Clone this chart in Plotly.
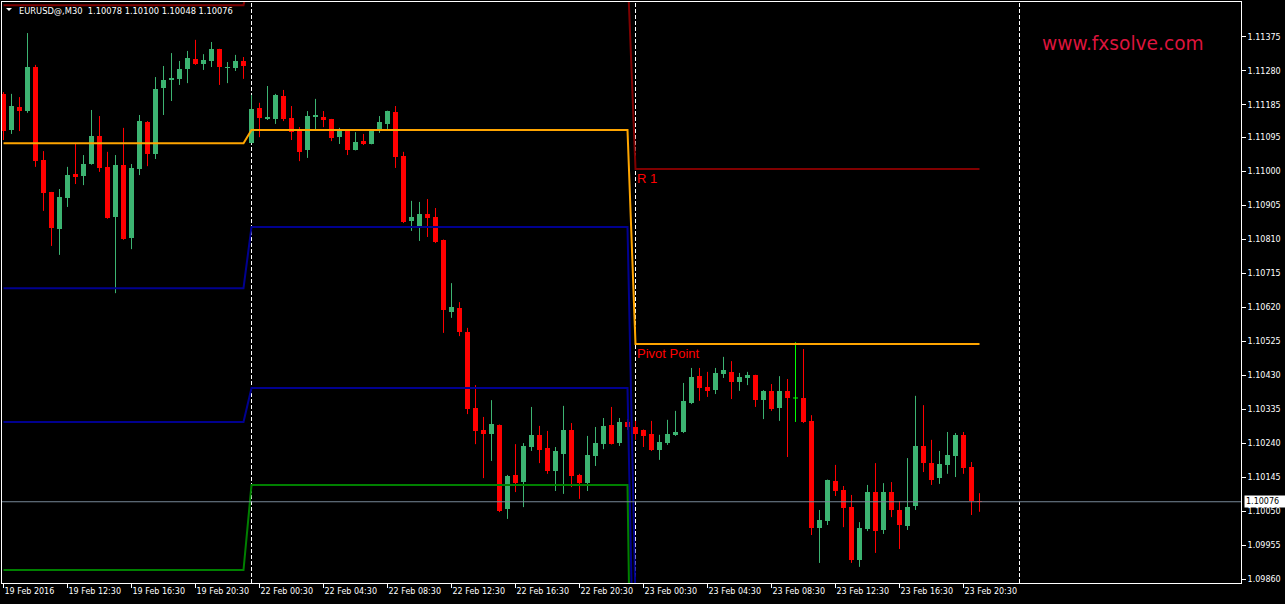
import numpy as np
import pandas as pd
import plotly.graph_objects as go

# ---------------------------------------------------------------- data
symbol = "EURUSD@,M30"
session_days = ["2016-02-19", "2016-02-22", "2016-02-23"]
first_bar = "2016-02-19 08:30"
last_bar = "2016-02-23 21:30"

open_ = [
    1.11216, 1.11115, 1.11179, 1.11168, 1.11291, 1.11031, 1.10942, 1.10838, 1.10925, 1.10992,
    1.10986, 1.11020, 1.11098, 1.11012, 1.10872, 1.11017, 1.10813, 1.11006, 1.11137, 1.11048,
    1.11232, 1.11255, 1.11258, 1.11286, 1.11313, 1.11300, 1.11308, 1.11341, 1.11290, 1.11288,
    1.11308, 1.11079, 1.11177, 1.11146, 1.11146, 1.11210, 1.11149, 1.11115, 1.11059, 1.11151,
    1.11151, 1.11146, 1.11095, 1.11115, 1.11059, 1.11084, 1.11076, 1.11115, 1.11132, 1.11165,
    1.11042, 1.10861, 1.10847, 1.10880, 1.10872, 1.10808, 1.10606, 1.10618, 1.10550, 1.10338,
    1.10277, 1.10265, 1.10291, 1.10056, 1.10151, 1.10131, 1.10229, 1.10263, 1.10226, 1.10162,
    1.10209, 1.10277, 1.10151, 1.10128, 1.10204, 1.10237, 1.10291, 1.10240, 1.10299, 1.10285,
    1.10277, 1.10265, 1.10221, 1.10240, 1.10263, 1.10271, 1.10352, 1.10427, 1.10397, 1.10388,
    1.10433, 1.10439, 1.10411, 1.10422, 1.10430, 1.10360, 1.10386, 1.10338, 1.10386, 1.10366,
    1.10366, 1.10302, 1.10003, 1.10022, 1.10134, 1.10109, 1.10061, 1.09913, 1.10000, 1.10103,
    1.09997, 1.10103, 1.10053, 1.10008, 1.10064, 1.10232, 1.10184, 1.10142, 1.10179, 1.10204,
    1.10263, 1.10173, 1.10078,
]
high = [
    1.11221, 1.11216, 1.11207, 1.11386, 1.11297, 1.11056, 1.10942, 1.10950, 1.11012, 1.11079,
    1.11045, 1.11171, 1.11154, 1.11054, 1.11045, 1.11121, 1.11020, 1.11157, 1.11140, 1.11263,
    1.11294, 1.11330, 1.11308, 1.11336, 1.11367, 1.11327, 1.11361, 1.11342, 1.11305, 1.11325,
    1.11319, 1.11213, 1.11191, 1.11238, 1.11216, 1.11227, 1.11182, 1.11123, 1.11168, 1.11202,
    1.11168, 1.11146, 1.11121, 1.11116, 1.11109, 1.11104, 1.11116, 1.11154, 1.11169, 1.11182,
    1.11054, 1.10917, 1.10914, 1.10922, 1.10897, 1.10809, 1.10687, 1.10634, 1.10562, 1.10402,
    1.10313, 1.10360, 1.10292, 1.10151, 1.10237, 1.10240, 1.10341, 1.10288, 1.10274, 1.10229,
    1.10344, 1.10296, 1.10154, 1.10260, 1.10285, 1.10310, 1.10341, 1.10310, 1.10307, 1.10302,
    1.10278, 1.10302, 1.10263, 1.10305, 1.10330, 1.10408, 1.10450, 1.10450, 1.10439, 1.10450,
    1.10481, 1.10469, 1.10436, 1.10439, 1.10431, 1.10388, 1.10405, 1.10427, 1.10419, 1.10522,
    1.10503, 1.10318, 1.10053, 1.10138, 1.10179, 1.10120, 1.10095, 1.10019, 1.10123, 1.10184,
    1.10128, 1.10131, 1.10078, 1.10198, 1.10372, 1.10346, 1.10249, 1.10218, 1.10271, 1.10268,
    1.10271, 1.10187, 1.10100,
]
low = [
    1.11087, 1.11104, 1.11112, 1.11163, 1.11012, 1.10889, 1.10791, 1.10766, 1.10900, 1.10964,
    1.10961, 1.11018, 1.10998, 1.10867, 1.10659, 1.10808, 1.10782, 1.10989, 1.11014, 1.11034,
    1.11157, 1.11196, 1.11241, 1.11246, 1.11297, 1.11283, 1.11291, 1.11241, 1.11246, 1.11280,
    1.11258, 1.11078, 1.11095, 1.11143, 1.11132, 1.11140, 1.11087, 1.11028, 1.11037, 1.11115,
    1.11123, 1.11084, 1.11076, 1.11045, 1.11058, 1.11073, 1.11075, 1.11107, 1.11118, 1.11009,
    1.10855, 1.10833, 1.10805, 1.10816, 1.10799, 1.10548, 1.10590, 1.10539, 1.10321, 1.10237,
    1.10142, 1.10190, 1.10047, 1.10028, 1.10103, 1.10061, 1.10218, 1.10184, 1.10154, 1.10106,
    1.10098, 1.10117, 1.10084, 1.10106, 1.10176, 1.10223, 1.10236, 1.10232, 1.10277, 1.10249,
    1.10229, 1.10218, 1.10193, 1.10235, 1.10260, 1.10268, 1.10349, 1.10358, 1.10369, 1.10377,
    1.10422, 1.10363, 1.10386, 1.10402, 1.10341, 1.10307, 1.10330, 1.10302, 1.10201, 1.10299,
    1.10296, 1.09983, 1.09905, 1.10011, 1.10092, 1.10005, 1.09905, 1.09894, 1.09994, 1.09933,
    1.09986, 1.10033, 1.09944, 1.09997, 1.10053, 1.10159, 1.10123, 1.10126, 1.10154, 1.10145,
    1.10154, 1.10039, 1.10048,
]
close = [
    1.11112, 1.11182, 1.11168, 1.11291, 1.11028, 1.10939, 1.10841, 1.10928, 1.10989, 1.10984,
    1.11020, 1.11098, 1.11009, 1.10869, 1.11017, 1.10810, 1.11009, 1.11140, 1.11048, 1.11230,
    1.11255, 1.11260, 1.11286, 1.11316, 1.11300, 1.11311, 1.11341, 1.11291, 1.11291, 1.11308,
    1.11294, 1.11174, 1.11149, 1.11149, 1.11213, 1.11146, 1.11109, 1.11054, 1.11154, 1.11157,
    1.11143, 1.11093, 1.11115, 1.11059, 1.11082, 1.11076, 1.11115, 1.11137, 1.11168, 1.11040,
    1.10858, 1.10872, 1.10880, 1.10869, 1.10802, 1.10612, 1.10620, 1.10550, 1.10335, 1.10274,
    1.10265, 1.10293, 1.10050, 1.10148, 1.10128, 1.10232, 1.10263, 1.10221, 1.10162, 1.10218,
    1.10277, 1.10148, 1.10128, 1.10207, 1.10240, 1.10288, 1.10237, 1.10299, 1.10285, 1.10265,
    1.10260, 1.10221, 1.10243, 1.10265, 1.10271, 1.10358, 1.10425, 1.10394, 1.10386, 1.10436,
    1.10444, 1.10411, 1.10425, 1.10430, 1.10360, 1.10386, 1.10335, 1.10386, 1.10366, 1.10366,
    1.10299, 1.10003, 1.10025, 1.10137, 1.10106, 1.10059, 1.09913, 1.10003, 1.10103, 1.09994,
    1.10103, 1.10053, 1.10011, 1.10061, 1.10232, 1.10184, 1.10137, 1.10182, 1.10207, 1.10263,
    1.10170, 1.10078, 1.10076,
]

# daily classic pivot levels (one value per session day)
pivot = [1.11078, 1.11115, 1.10517]
r1 = [1.11464, 1.11565, 1.11006]
s1 = [1.10673, 1.10844, 1.09796]
s2 = [1.10299, 1.10394, 1.09307]
s3 = [1.09885, 1.10123, 1.08586]

bid = 1.10076

price_ticks = [1.11375, 1.11280, 1.11185, 1.11095, 1.11000, 1.10905, 1.10810, 1.10715,
               1.10620, 1.10525, 1.10430, 1.10335, 1.10240, 1.10145, 1.10050, 1.09955,
               1.09860]
time_tick_labels = ["19 Feb 2016", "19 Feb 12:30", "19 Feb 16:30", "19 Feb 20:30",
                    "22 Feb 00:30", "22 Feb 04:30", "22 Feb 08:30", "22 Feb 12:30",
                    "22 Feb 16:30", "22 Feb 20:30", "23 Feb 00:30", "23 Feb 04:30",
                    "23 Feb 08:30", "23 Feb 12:30", "23 Feb 16:30", "23 Feb 20:30"]

# ---------------------------------------------------------------- bar axis
times = pd.date_range(first_bar, last_bar, freq="30min")
times = times[times.normalize().isin(pd.to_datetime(session_days))]
bars = np.arange(len(times))
day_of_bar = np.searchsorted(pd.to_datetime(session_days), times.normalize())

labels_at = [f"{t.day:02d} {t:%b %H:%M}" for t in times]
labels_at[0] = f"{times[0].day:02d} {times[0]:%b %Y}"
tick_pos = [labels_at.index(lbl) for lbl in time_tick_labels]

# first bar of every session, plus the start of the following day
day_starts = [int(np.argmax(day_of_bar == d)) for d in range(1, len(session_days))]
bars_per_day = 48
day_starts.append(day_starts[-1] + bars_per_day)

o = np.array(open_); h = np.array(high); l = np.array(low); c = np.array(close)

BULL = "#3cb371"
BEAR = "#ff0000"
DOJI = "#00ff00"
colors = np.where(c > o, BULL, np.where(c < o, BEAR, DOJI))

fig = go.Figure()

# candle bodies
fig.add_trace(go.Bar(
    x=bars, y=np.abs(c - o), base=np.minimum(o, c), width=0.625,
    marker=dict(color=list(colors), line=dict(width=0)),
    hoverinfo="skip", showlegend=False,
))

# wicks (and flat bodies for dojis), one trace per colour
half_body = 0.3125
for col in (BULL, BEAR, DOJI):
    xs, ys = [], []
    for k in bars[colors == col]:
        xs += [k, k, None]
        ys += [l[k], h[k], None]
        if o[k] == c[k]:
            xs += [k - half_body, k + half_body, None]
            ys += [o[k], o[k], None]
    if xs:
        fig.add_trace(go.Scatter(x=xs, y=ys, mode="lines",
                                 line=dict(color=col, width=1),
                                 hoverinfo="skip", showlegend=False))

# pivot indicator lines
levels = [(r1, "#800000"), (pivot, "#ffa500"), (s1, "#00008f"),
          (s2, "#00008f"), (s3, "#008000")]
for vals, col in levels:
    fig.add_trace(go.Scatter(x=bars, y=np.array(vals)[day_of_bar], mode="lines",
                             line=dict(color=col, width=2),
                             hoverinfo="skip", showlegend=False))

# period separators
for k in day_starts:
    fig.add_shape(type="line", xref="x", yref="paper", x0=k, x1=k, y0=0, y1=1,
                  line=dict(color="white", width=1, dash="4px,2px"), layer="below")

# bid line
fig.add_shape(type="line", xref="paper", yref="y", x0=0, x1=1, y0=bid, y1=bid,
              line=dict(color="#778899", width=1), layer="above")

# header triangle
fig.add_shape(type="path", xref="paper", yref="paper", xsizemode="pixel",
              ysizemode="pixel", xanchor=0, yanchor=1,
              path="M 4,-6 L 10,-6 L 7,-9 Z", fillcolor="white",
              line=dict(width=0))

ann = []
ann.append(dict(xref="paper", yref="paper", x=0, y=1, xanchor="left", yanchor="middle",
                xshift=15, yshift=-8.5, showarrow=False,
                text=f"{symbol}\u00a0 {o[-1]:.5f} {h[-1]:.5f} {l[-1]:.5f} {c[-1]:.5f}",
                font=dict(family="DejaVu Sans", size=8.3, color="white")))
ann.append(dict(xref="paper", yref="paper", x=0.8402, y=0.9294, xanchor="left",
                yanchor="middle", xshift=-3, showarrow=False, text="www.fxsolve.com",
                font=dict(family="DejaVu Sans", size=18.6, color="#dc143c")))
last_day_start = day_starts[1]
ann.append(dict(xref="x", yref="y", x=last_day_start, y=r1[-1], xanchor="left",
                yanchor="top", xshift=-1, showarrow=False, text="R 1",
                font=dict(family="Liberation Sans", size=13, color="#ff0000")))
ann.append(dict(xref="x", yref="y", x=last_day_start, y=pivot[-1], xanchor="left",
                yanchor="top", xshift=-1, showarrow=False, text="Pivot Point",
                font=dict(family="Liberation Sans", size=13, color="#ff0000")))
ann.append(dict(xref="paper", yref="y", x=1, y=bid, xanchor="left", yanchor="middle",
                xshift=3, showarrow=False, text=f"{bid:.5f}\u00a0\u00a0", bgcolor="white",
                borderpad=1,
                font=dict(family="DejaVu Sans", size=8, color="black")))

fig.update_layout(
    width=1285, height=604,
    margin=dict(l=2, r=44, t=2, b=21),
    paper_bgcolor="black", plot_bgcolor="black",
    font=dict(family="DejaVu Sans", size=8, color="white"),
    showlegend=False, hovermode=False, bargap=0,
    annotations=ann,
)
fig.update_xaxes(
    range=[-0.1875, 154.6875], tickvals=tick_pos, ticktext=time_tick_labels,
    ticks="outside", ticklen=4, tickcolor="white", ticklabelposition="outside right",
    showgrid=False, zeroline=False, showline=True, linecolor="white", linewidth=1,
    mirror=True, fixedrange=True,
)
fig.update_yaxes(
    side="right", range=[1.098489, 1.114728], tickvals=price_ticks,
    ticktext=[f"{v:.5f}" for v in price_ticks],
    ticks="outside", ticklen=4, tickcolor="white",
    showgrid=False, zeroline=False, showline=True, linecolor="white", linewidth=1,
    mirror=True, fixedrange=True,
)

fig.write_html("out.html")
